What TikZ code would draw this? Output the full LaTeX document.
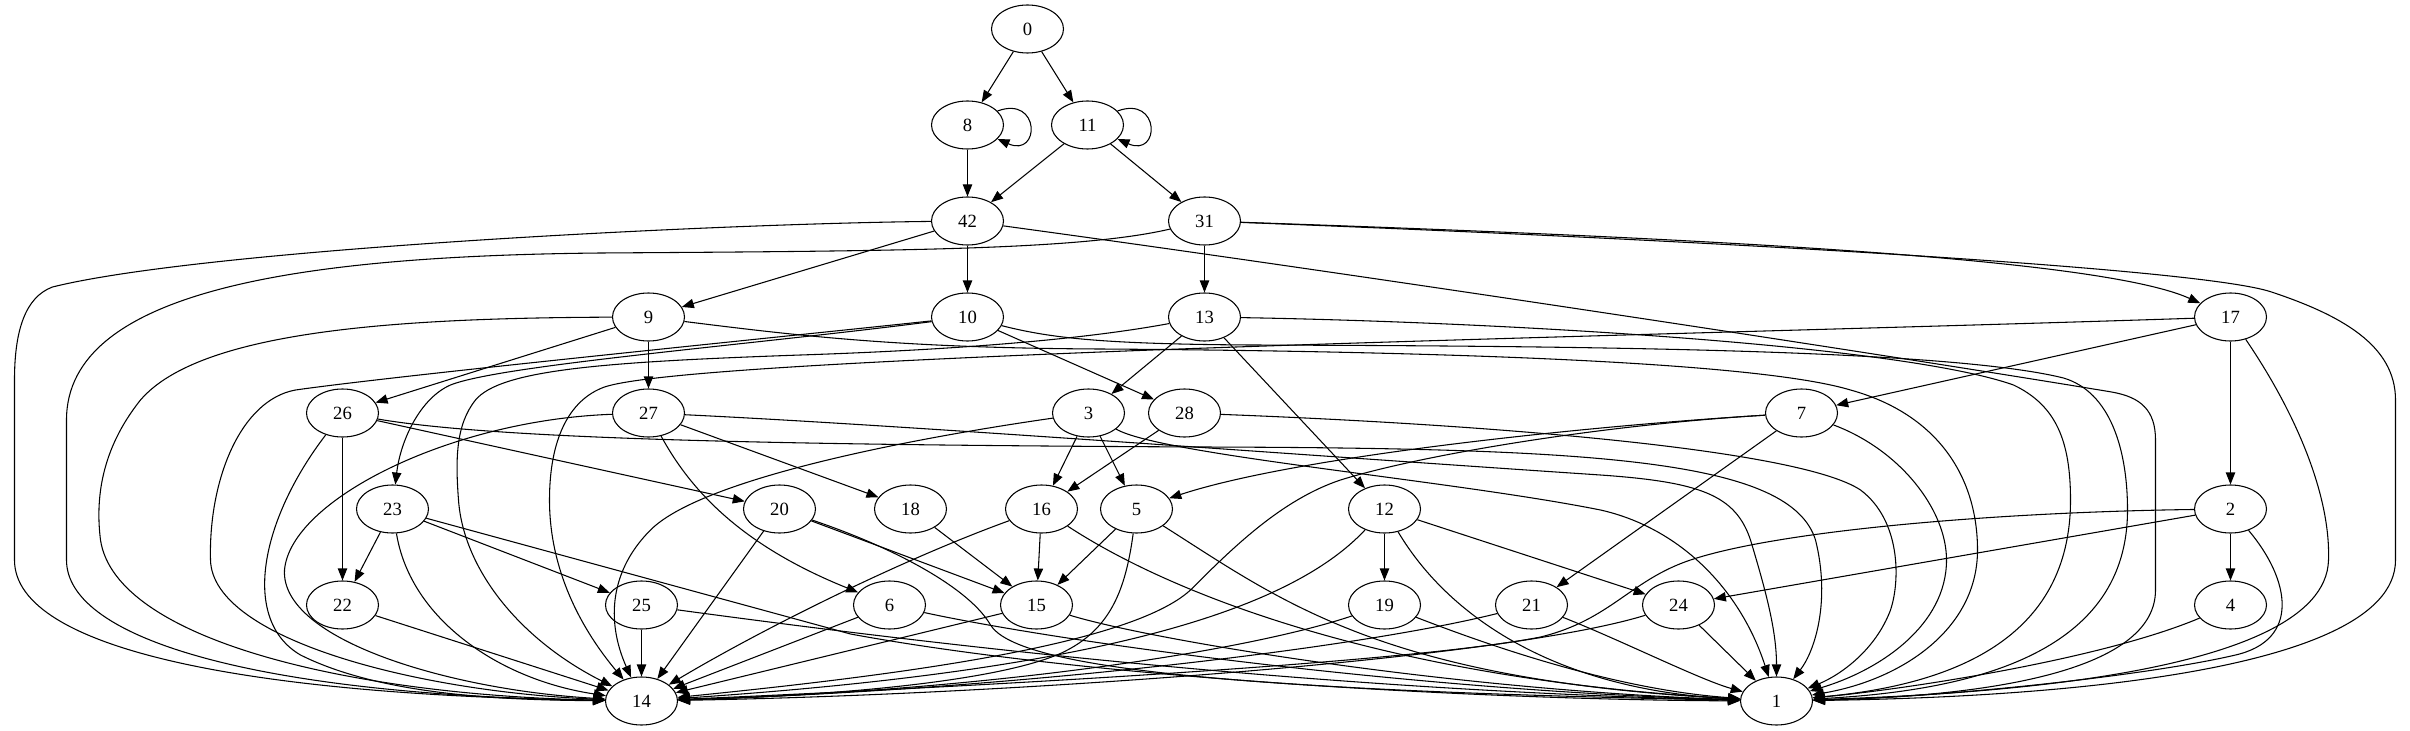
\documentclass[tikz,border=0pt]{standalone}
\usepackage{fontspec}
\setmainfont{Liberation Serif}
\usetikzlibrary{shapes.geometric,arrows.meta}
\begin{document}
\begin{tikzpicture}[x=0.75pt,y=-0.75pt,
  gn/.style={draw, ellipse, minimum width=54pt, minimum height=36pt, inner sep=0pt, line width=0.8pt, font=\fontsize{14}{16}\selectfont},
  e/.style={line width=0.8pt, -{Triangle[length=9pt,width=7pt]}}]
\useasboundingbox (0,0) rectangle (2410,731);
\begin{scope}[xshift=0.375pt]
% nodes
\node[gn] (n0) at (1027,29) {0};
\node[gn] (n8) at (967,125) {8};
\node[gn] (n11) at (1087,125) {11};
\node[gn] (n42) at (967,221) {42};
\node[gn] (n31) at (1204,221) {31};
\node[gn] (n9) at (648,317) {9};
\node[gn] (n10) at (967,317) {10};
\node[gn] (n13) at (1204,317) {13};
\node[gn] (n17) at (2230,317) {17};
\node[gn] (n26) at (342,413) {26};
\node[gn] (n27) at (648,413) {27};
\node[gn] (n3) at (1088,413) {3};
\node[gn] (n28) at (1184,413) {28};
\node[gn] (n7) at (1801,413) {7};
\node[gn] (n23) at (392,509) {23};
\node[gn] (n20) at (779,509) {20};
\node[gn] (n18) at (910,509) {18};
\node[gn] (n16) at (1041,509) {16};
\node[gn] (n5) at (1136,509) {5};
\node[gn] (n12) at (1384,509) {12};
\node[gn] (n2) at (2230,509) {2};
\node[gn] (n22) at (342,605) {22};
\node[gn] (n25) at (641,605) {25};
\node[gn] (n6) at (889,605) {6};
\node[gn] (n15) at (1036,605) {15};
\node[gn] (n19) at (1384,605) {19};
\node[gn] (n21) at (1531,605) {21};
\node[gn] (n24) at (1678,605) {24};
\node[gn] (n4) at (2230,605) {4};
\node[gn] (n14) at (641,701) {14};
\node[gn] (n1) at (1776,701) {1};
% top edges
\draw[e] (n0) -- (n8);
\draw[e] (n0) -- (n11);
\draw[e] (n8.25) .. controls (1040,95) and (1040,158) .. (n8.-25);
\draw[e] (n11.25) .. controls (1160,95) and (1160,158) .. (n11.-25);
\draw[e] (n8) -- (n42);
\draw[e] (n11) -- (n42);
\draw[e] (n11) -- (n31);
\draw[e] (n42) -- (n9);
\draw[e] (n42) -- (n10);
\draw[e] (n31) -- (n13);
\draw[e] (n31) .. controls (1700,238) and (2100,258) .. (n17);
% long edges into 14 from the left
\draw[e] (n42) .. controls (700,224) and (200,250) .. (52,287) .. controls (25,297) and (14,330) .. (14,380) -- (14,560) .. controls (14,650) and (250,695) .. (n14);
\draw[e] (n31) .. controls (1080,250) and (900,251) .. (600,253) .. controls (300,256) and (66,290) .. (66,420) -- (66,560) .. controls (66,640) and (260,695) .. (n14);
\draw[e] (n9) .. controls (400,318) and (200,330) .. (140,400) .. controls (100,450) and (95,500) .. (100,540) .. controls (115,640) and (350,695) .. (n14);
\draw[e] (n10) .. controls (800,335) and (400,375) .. (295,390) .. controls (240,400) and (208,480) .. (210,560) .. controls (212,640) and (420,692) .. (n14);
\draw[e] (n10) .. controls (750,345) and (500,365) .. (450,385) .. controls (420,398) and (400,440) .. (n23);
\draw[e] (n13) .. controls (1080,340) and (950,350) .. (800,355) .. controls (600,362) and (500,370) .. (475,400) .. controls (455,425) and (455,460) .. (458,500) .. controls (463,570) and (520,640) .. (n14);
\draw[e] (n17) .. controls (1900,328) and (1400,340) .. (1100,352) .. controls (800,364) and (640,375) .. (604,387) .. controls (568,400) and (549,440) .. (549,500) .. controls (549,580) and (590,640) .. (n14);
\draw[e] (n26) .. controls (260,520) and (240,620) .. (300,655) .. controls (380,695) and (500,700) .. (n14);
\draw[e] (n27) .. controls (450,420) and (290,500) .. (284,570) .. controls (280,640) and (450,690) .. (n14);
\draw[e] (n23) .. controls (410,620) and (500,680) .. (n14);
\draw[e] (n22) -- (n14);
\draw[e] (n25) -- (n14);
% into 14 from the right
\draw[e] (n3) .. controls (900,440) and (700,480) .. (650,530) .. controls (610,570) and (605,620) .. (n14);
\draw[e] (n7) .. controls (1600,425) and (1420,455) .. (1340,480) .. controls (1280,500) and (1230,550) .. (1190,590) .. controls (1130,645) and (900,675) .. (n14);
\draw[e] (n2) .. controls (2000,512) and (1780,530) .. (1690,560) .. controls (1630,580) and (1610,620) .. (1540,637) .. controls (1400,665) and (900,690) .. (n14);
\draw[e] (n12) .. controls (1290,610) and (1100,670) .. (n14);
\draw[e] (n16) .. controls (900,560) and (760,630) .. (n14);
\draw[e] (n5) .. controls (1125,590) and (1110,630) .. (1061,653) .. controls (1000,680) and (850,695) .. (n14);
\draw[e] (n20) -- (n14);
\draw[e] (n6) -- (n14);
\draw[e] (n15) -- (n14);
\draw[e] (n19) .. controls (1250,650) and (1000,690) .. (n14);
\draw[e] (n21) .. controls (1350,650) and (1000,690) .. (n14);
\draw[e] (n24) .. controls (1500,660) and (1000,695) .. (n14);
% long edges into 1
\draw[e] (n42) .. controls (1400,280) and (1950,365) .. (2111,392) .. controls (2140,397) and (2155,410) .. (2155,440) -- (2155,590) .. controls (2155,680) and (1950,697) .. (n1);
\draw[e] (n31) .. controls (1700,240) and (2200,268) .. (2271,292) .. controls (2340,315) and (2395,345) .. (2395,400) -- (2395,560) .. controls (2395,680) and (2000,698) .. (n1);
\draw[e] (n17) .. controls (2300,420) and (2330,500) .. (2328,560) .. controls (2325,680) and (1950,695) .. (n1);
\draw[e] (n2) .. controls (2290,580) and (2300,640) .. (2235,655) .. controls (2150,675) and (1950,697) .. (n1);
\draw[e] (n4) .. controls (2100,660) and (1900,690) .. (n1);
\draw[e] (n13) .. controls (1500,322) and (1900,345) .. (2013,385) .. controls (2055,405) and (2070,440) .. (2070,500) .. controls (2070,640) and (1950,685) .. (n1);
\draw[e] (n10) .. controls (1050,338) and (1100,344) .. (1250,345) .. controls (1600,346) and (1950,350) .. (2063,378) .. controls (2110,392) and (2127,450) .. (2127,510) .. controls (2127,650) and (1980,690) .. (n1);
\draw[e] (n9) .. controls (800,336) and (900,348) .. (1100,349) .. controls (1400,351) and (1750,360) .. (1850,390) .. controls (1940,415) and (1977,480) .. (1977,550) .. controls (1977,630) and (1900,680) .. (n1);
\draw[e] (n7) .. controls (1900,450) and (1946,510) .. (1946,560) .. controls (1946,625) and (1880,670) .. (n1);
\draw[e] (n28) .. controls (1500,425) and (1800,450) .. (1860,490) .. controls (1900,520) and (1900,580) .. (1890,610) .. controls (1875,650) and (1840,675) .. (n1);
\draw[e] (n26) .. controls (500,440) and (800,445) .. (1200,447) .. controls (1600,448) and (1790,460) .. (1815,540) .. controls (1830,600) and (1815,650) .. (n1);
\draw[e] (n27) .. controls (900,425) and (1300,455) .. (1600,475) .. controls (1700,482) and (1735,495) .. (1750,540) .. controls (1765,590) and (1776,630) .. (n1);
\draw[e] (n3) .. controls (1160,455) and (1450,480) .. (1600,510) .. controls (1680,528) and (1740,590) .. (n1);
% lower edges into 1
\draw[e] (n23) -- (850,634) .. controls (1100,680) and (1500,700) .. (n1);
\draw[e] (n25) .. controls (900,640) and (1300,690) .. (n1);
\draw[e] (n20) .. controls (900,550) and (970,590) .. (990,625) .. controls (1015,665) and (1200,690) .. (n1);
\draw[e] (n6) .. controls (1050,640) and (1400,690) .. (n1);
\draw[e] (n15) .. controls (1150,640) and (1450,690) .. (n1);
\draw[e] (n16) .. controls (1180,600) and (1400,680) .. (n1);
\draw[e] (n5) .. controls (1280,600) and (1380,680) .. (n1);
\draw[e] (n12) .. controls (1450,620) and (1560,690) .. (n1);
\draw[e] (n19) .. controls (1500,650) and (1620,690) .. (n1);
\draw[e] (n21) .. controls (1620,640) and (1700,680) .. (n1);
\draw[e] (n24) -- (n1);
% other edges
\draw[e] (n9) -- (n26);
\draw[e] (n9) -- (n27);
\draw[e] (n10) -- (n28);
\draw[e] (n13) -- (n3);
\draw[e] (n13) -- (n12);
\draw[e] (n17) -- (n7);
\draw[e] (n17) -- (n2);
\draw[e] (n26) -- (n22);
\draw[e] (n26) -- (n20);
\draw[e] (n27) -- (n18);
\draw[e] (n27) .. controls (690,490) and (740,545) .. (n6);
\draw[e] (n3) -- (n16);
\draw[e] (n3) -- (n5);
\draw[e] (n28) -- (n16);
\draw[e] (n7) .. controls (1600,425) and (1300,455) .. (n5);
\draw[e] (n7) -- (n21);
\draw[e] (n23) -- (n22);
\draw[e] (n23) -- (n25);
\draw[e] (n20) -- (n15);
\draw[e] (n18) -- (n15);
\draw[e] (n16) -- (n15);
\draw[e] (n5) -- (n15);
\draw[e] (n12) -- (n19);
\draw[e] (n12) -- (n24);
\draw[e] (n2) -- (n24);
\draw[e] (n2) -- (n4);
\end{scope}
\end{tikzpicture}
\end{document}
